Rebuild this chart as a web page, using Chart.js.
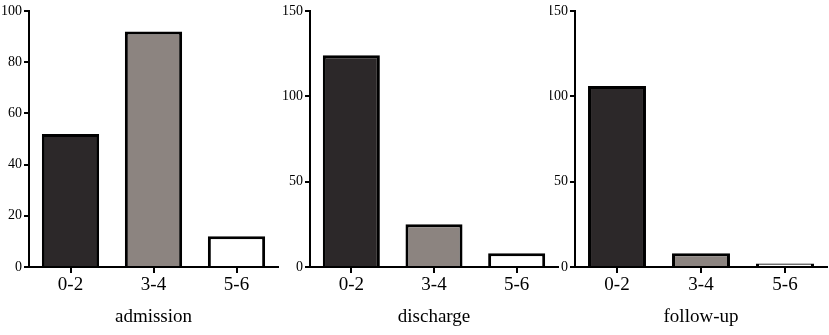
<!DOCTYPE html>
<html>
<head>
<meta charset="utf-8">
<script src="https://cdn.jsdelivr.net/npm/chart.js@4"></script>
<style>
  body { margin: 0; background: #fff; }
  #wrap { position: relative; width: 829px; height: 335px; }
  .pane { position: absolute; top: 0; height: 335px; }
</style>
</head>
<body>
<div id="wrap">
  <div class="pane" style="left:0;width:280px"><canvas id="c1"></canvas></div>
  <div class="pane" style="left:280px;width:280px"><canvas id="c2"></canvas></div>
  <div class="pane" style="left:550px;width:279px"><canvas id="c3"></canvas></div>
</div>
<script>
const categories = ["0-2", "3-4", "5-6"];
const admission = [52, 92, 12];
const discharge = [124, 25, 8];
const followUp = [106, 8, 2];
const titles = ["admission", "discharge", "follow-up"];
const yMax = [100, 150, 150];
const ySteps = [20, 50, 50];

const fills = ["#2c2829", "#8c8480", "#ffffff"];
const fnt = "'Liberation Serif', 'DejaVu Serif', serif";

function makeChart(id, values, title, max, step, yWidth) {
  const ctx = document.getElementById(id).getContext("2d");
  return new Chart(ctx, {
    type: "bar",
    data: {
      labels: categories,
      datasets: [{
        data: values,
        backgroundColor: fills,
        borderColor: "#000",
        borderWidth: 3,
        barPercentage: 0.69,
        categoryPercentage: 1
      }]
    },
    options: {
      responsive: true,
      maintainAspectRatio: false,
      animation: false,
      layout: { padding: { top: 11, right: 2 } },
      plugins: { legend: { display: false }, tooltip: { enabled: false } },
      scales: {
        x: {
          afterFit: s => { s.height = 68; },
          border: { display: true, color: "#000", width: 2 },
          grid: { offset: false, drawOnChartArea: false, color: "#000", lineWidth: 2, tickLength: 6 },
          ticks: { color: "#000", font: { family: fnt, size: 19 }, padding: 1 },
          title: { display: true, text: title, color: "#000", font: { family: fnt, size: 19 }, padding: { top: 0, bottom: 7 } }
        },
        y: {
          min: 0,
          max: max,
          afterFit: s => { s.width = yWidth; },
          border: { display: true, color: "#000", width: 2 },
          grid: { drawOnChartArea: false, color: "#000", lineWidth: 2, tickLength: 5 },
          ticks: { stepSize: step, color: "#000", font: { family: fnt, size: 14 }, padding: 2 }
        }
      }
    }
  });
}

makeChart("c1", admission, titles[0], yMax[0], ySteps[0], 29);
makeChart("c2", discharge, titles[1], yMax[1], ySteps[1], 30);
makeChart("c3", followUp, titles[2], yMax[2], ySteps[2], 25);
</script>
</body>
</html>
